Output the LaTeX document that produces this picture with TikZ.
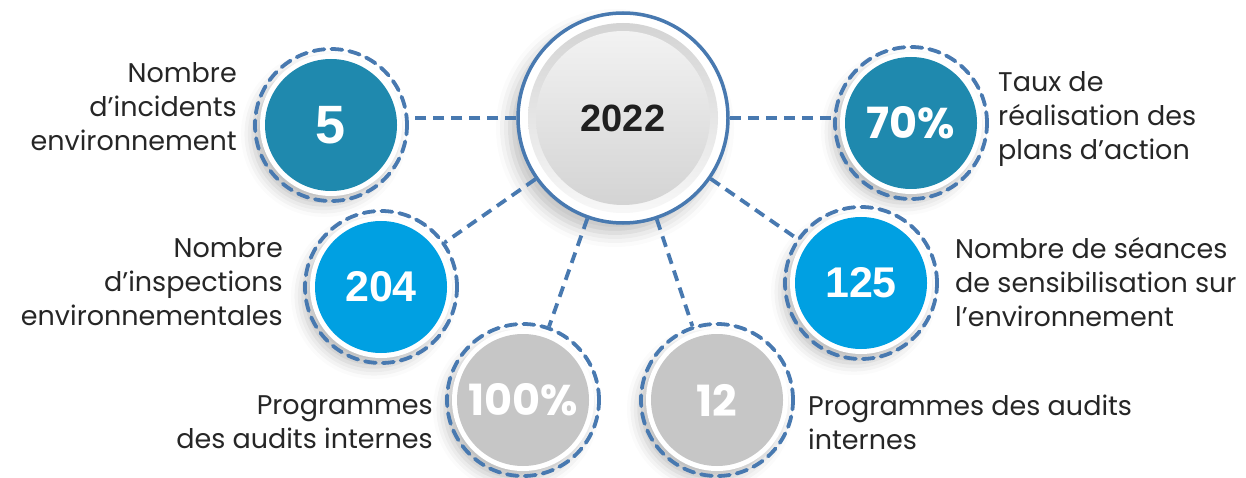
\documentclass[tikz,border=0pt]{standalone}
\usepackage{fontspec}
\setmainfont{Poppins}
\newfontfamily\numfont{Liberation Sans}
\usetikzlibrary{shadows.blur}

\definecolor{ringblue}{RGB}{72,121,176}
\definecolor{tealdk}{RGB}{31,137,174}
\definecolor{skyblue}{RGB}{0,160,226}
\definecolor{greyc}{RGB}{198,198,198}
\definecolor{txt}{RGB}{38,38,38}

\tikzset{
    halo/.style={circle, fill=white, inner sep=0pt, minimum size=142pt,
        blur shadow={shadow xshift=-7pt, shadow yshift=-9pt, shadow blur radius=12pt, shadow opacity=25}},
    disc/.style={circle, fill=#1, inner sep=0pt, minimum size=132pt, text=white,
        font=\fontsize{43}{43}\selectfont\bfseries},
    ring/.style={circle, draw=ringblue, line width=3.8pt, dash pattern=on 11pt off 7pt,
        line cap=round, inner sep=0pt, minimum size=152pt},
    link/.style={draw=ringblue, line width=3.8pt, dash pattern=on 11pt off 7pt},
    lbl/.style={text=txt, inner sep=0pt, font=\fontsize{27}{34}\selectfont}
}

\begin{document}
\begin{tikzpicture}[x=1pt, y=1pt]
    \useasboundingbox (0,0) rectangle (1246,477);

    % centre
    \node[circle, fill=white, draw=ringblue, line width=3.5pt, minimum size=210pt,
        blur shadow={shadow xshift=-8pt, shadow yshift=-10pt, shadow blur radius=14pt, shadow opacity=25}] (yr) at (623,359) {};
    \shade[top color=black!17, bottom color=black!3] (yr) circle (95);
    \shade[top color=black!5, bottom color=black!17] (yr) circle (87);
    \node[font=\numfont\fontsize{38}{38}\selectfont\bfseries, text=black!88] (yrt) at (yr) {2022};

    % values
    \foreach \n/\x/\y/\c/\f/\t in {inc/331/352/tealdk/\numfont\fontsize{54}{54}\selectfont/5,
        taux/911/354/tealdk//70\%,
        insp/381/190/skyblue/\numfont/204, sens/861/194/skyblue/\numfont/125,
        prog/523/77/greyc//100\%, aud/717/77/greyc//12} {
        \node[halo] (\n h) at (\x,\y) {};
        \node[disc=\c] (\n v) at (\x,\y) {\f\t};
        \node[ring] (\n) at (\x,\y) {};
    }

    % connectors
    \draw[link] (yr.west) -- (inc.east |- yr.west);
    \draw[link] (yr.east) -- (taux.west |- yr.east);
    \draw[link] (yr) -- (insp);
    \draw[link] (yr) -- (sens);
    \draw[link] (yr) -- (prog);
    \draw[link] (yr) -- (aud);

    % labels
    \node[lbl, align=right, anchor=east] (incl) at (237,370) {Nombre\\d’incidents\\environnement};
    \node[lbl, align=right, anchor=east] (inspl) at (283,195) {Nombre\\d’inspections\\environnementales};
    \node[lbl, align=right, anchor=east] (progl) at (433,55) {Programmes\\des audits internes};
    \node[lbl, align=left, anchor=west] (tauxl) at (998,358) {Taux de\\réalisation des\\plans d’action};
    \node[lbl, align=left, anchor=west] (sensl) at (955,195) {Nombre de séances\\de sensibilisation sur\\l’environnement};
    \node[lbl, align=left, anchor=west] (audl) at (808,55) {Programmes des audits\\internes};
\end{tikzpicture}
\end{document}
